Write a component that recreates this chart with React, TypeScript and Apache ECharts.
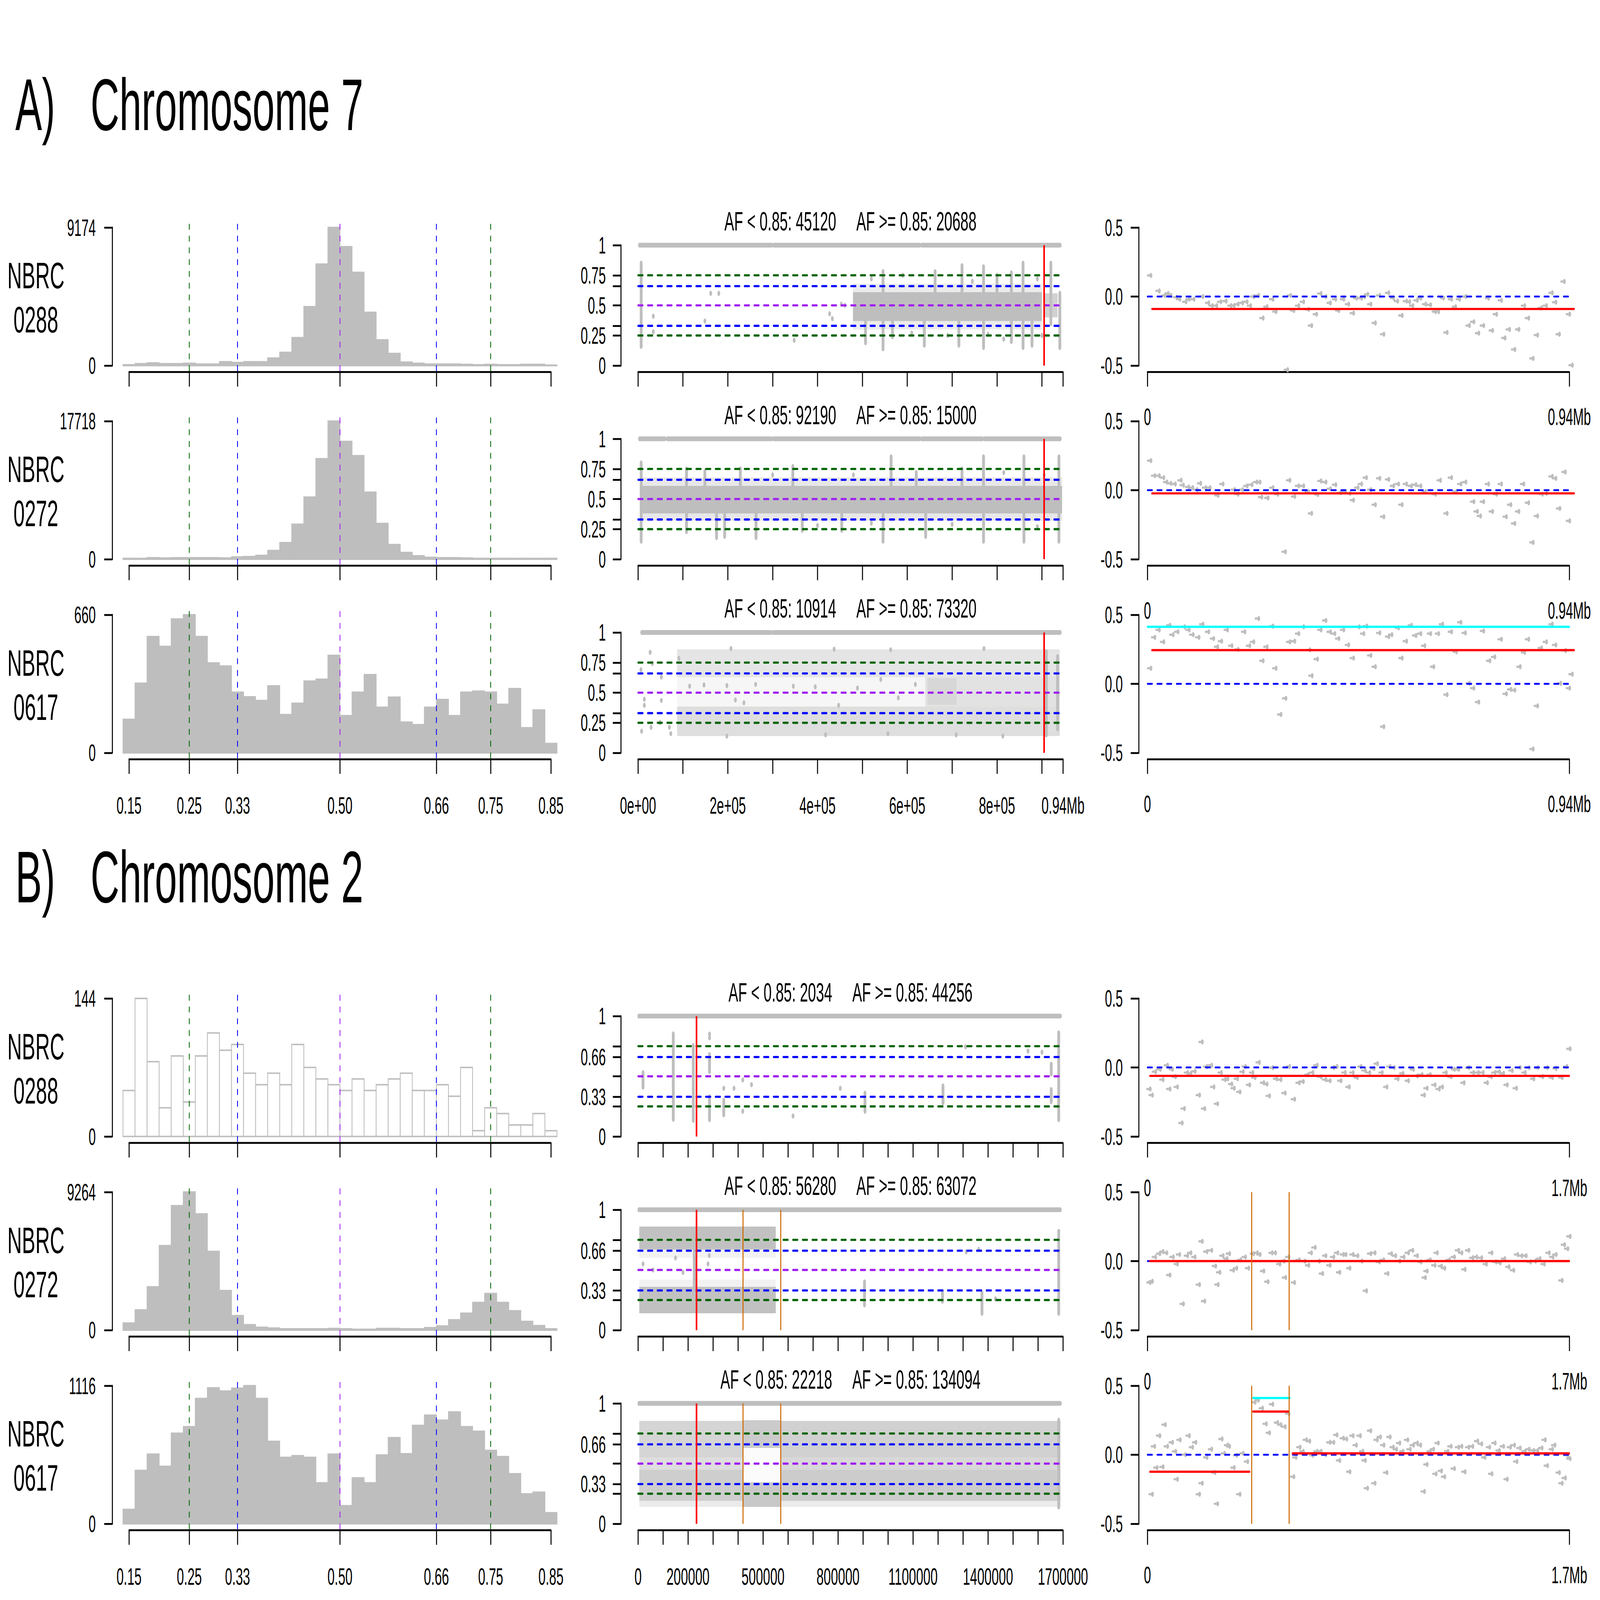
import React, { useEffect, useRef } from "react";
import * as echarts from "echarts";

// ======================= DATA =======================
const panelLetters = ["A)", "B)"];
const chromosomeNames = ["Chromosome 7", "Chromosome 2"];
const samples = ["0288", "0272", "0617"];
const chrLengthBp = [947000, 1700000];
const chrLengthKb = [947, 1700];
const cnEndLabels = ["0.94Mb", "1.7Mb"];

const histBreaks = [0.14, 0.16, 0.18, 0.2, 0.22, 0.24, 0.26, 0.28, 0.3, 0.32, 0.34, 0.36, 0.38, 0.4, 0.42, 0.44, 0.46, 0.48, 0.5, 0.52, 0.54, 0.56, 0.58, 0.6, 0.62, 0.64, 0.66, 0.68, 0.7, 0.72, 0.74, 0.76, 0.78, 0.8, 0.82, 0.84, 0.86];
const histA0288 = [50, 125, 175, 125, 125, 150, 100, 100, 250, 200, 250, 250, 500, 877, 1855, 3910, 6742, 9174, 7896, 6190, 3534, 1704, 802, 225, 150, 100, 100, 100, 75, 50, 75, 50, 50, 75, 75, 25];
const histA0272 = [97, 97, 193, 145, 193, 193, 193, 193, 145, 290, 338, 483, 1111, 2125, 4492, 7970, 12896, 17718, 15118, 13283, 8597, 4589, 1884, 869, 435, 242, 193, 193, 145, 97, 97, 97, 97, 97, 97, 97];
const histA0617 = [160, 333, 556, 509, 640, 660, 556, 430, 415, 290, 268, 250, 320, 183, 237, 343, 352, 466, 178, 290, 374, 218, 266, 147, 135, 218, 255, 178, 290, 295, 290, 232, 307, 120, 205, 45];
const histB0288 = [48, 144, 78, 30, 84, 36, 84, 108, 90, 96, 66, 54, 66, 54, 96, 72, 60, 54, 48, 60, 48, 54, 60, 66, 48, 48, 54, 42, 72, 6, 30, 24, 12, 12, 24, 6];
const histB0272 = [470, 1355, 2903, 5668, 8350, 9264, 7797, 5281, 2654, 968, 359, 194, 138, 83, 83, 83, 83, 110, 83, 55, 55, 110, 110, 83, 83, 166, 276, 691, 1134, 1853, 2461, 1853, 1300, 581, 304, 83];
const histB0617 = [116, 431, 563, 464, 732, 785, 1013, 1099, 1073, 1096, 1116, 1013, 666, 537, 550, 537, 331, 563, 146, 371, 331, 556, 696, 566, 795, 878, 838, 904, 785, 748, 593, 543, 404, 242, 255, 89];
const histMax = [9174, 17718, 660, 144, 9264, 1116];
const histTicks = [0.15, 0.25, 0.33, 0.5, 0.66, 0.75, 0.85];

const afGuides = [0.25, 0.33, 0.5, 0.66, 0.75];
const afGuideColors = ["#006400", "#0000FF", "#A020F0", "#0000FF", "#006400"];

const afLowCounts = [45120, 92190, 10914, 2034, 56280, 22218];
const afHighCounts = [20688, 15000, 73320, 44256, 63072, 134094];

const afTicks = [0, 0.25, 0.33, 0.5, 0.66, 0.75, 1];
const afLabelsTop = [0, 0.25, 0.5, 0.75, 1];
const afLabelsBottom = [0, 0.33, 0.66, 1];
const posTicks7 = [0, 100000, 200000, 300000, 400000, 500000, 600000, 700000, 800000, 900000, 947000];
const posLabelVals7 = [0, 200000, 400000, 600000, 800000, 947000];
const posLabelText7 = ["0e+00", "2e+05", "4e+05", "6e+05", "8e+05", "0.94Mb"];
const posTicks2 = [0, 100000, 200000, 300000, 400000, 500000, 600000, 700000, 800000, 900000, 1000000, 1100000, 1200000, 1300000, 1400000, 1500000, 1600000, 1700000];
const posLabelVals2 = [0, 200000, 500000, 800000, 1100000, 1400000, 1700000];
const posLabelText2 = ["0", "200000", "500000", "800000", "1100000", "1400000", "1700000"];

const centromereBp = [905000, 234000];
const breakpointsBp = [420000, 571000];

const homA0288 = [[3000, 298000, 1], [302000, 628000, 1], [632000, 941000, 1]];
const homA0272 = [[3000, 60000, 1], [65000, 298000, 1], [302000, 628000, 1], [632000, 768000, 1], [772000, 941000, 1]];
const homA0617 = [[8000, 298000, 1], [302000, 941000, 1]];
const homB0288 = [[3000, 1690000, 1]];
const homB0272 = [[3000, 1690000, 1]];
const homB0617 = [[3000, 1690000, 1]];

const cloudsA0288 = [[479000, 900000, 0.37, 0.61, 1], [479000, 900000, 0.3, 0.37, 0.3], [479000, 900000, 0.61, 0.68, 0.3], [905000, 935000, 0.4, 0.6, 0.7]];
const cloudsA0272 = [[5000, 945000, 0.38, 0.61, 1], [5000, 945000, 0.32, 0.38, 0.35], [5000, 945000, 0.61, 0.68, 0.35]];
const cloudsA0617 = [[87000, 940000, 0.63, 0.86, 0.4], [87000, 940000, 0.14, 0.385, 0.5], [87000, 640000, 0.385, 0.63, 0.14], [640000, 940000, 0.385, 0.63, 0.45], [645000, 710000, 0.4, 0.62, 0.3]];
const cloudsB0288: number[][] = [];
const cloudsB0272 = [[5000, 551000, 0.67, 0.86, 0.95], [5000, 551000, 0.14, 0.36, 0.95], [5000, 551000, 0.6, 0.67, 0.2], [5000, 551000, 0.36, 0.42, 0.2]];
const cloudsB0617 = [
  [5000, 420000, 0.55, 0.855, 0.65], [5000, 420000, 0.45, 0.55, 0.5], [5000, 420000, 0.19, 0.45, 0.75], [5000, 420000, 0.14, 0.19, 0.3],
  [420000, 571000, 0.63, 0.86, 0.8], [420000, 571000, 0.345, 0.63, 0.06], [420000, 571000, 0.14, 0.345, 0.85],
  [571000, 1690000, 0.55, 0.855, 0.7], [571000, 1690000, 0.45, 0.55, 0.6], [571000, 1690000, 0.19, 0.45, 0.78], [571000, 1690000, 0.14, 0.19, 0.3],
];

const streaksA0288 = [[7000, 0.16, 0.85], [507000, 0.19, 0.37], [546000, 0.14, 0.78], [567000, 0.24, 0.37], [638000, 0.17, 0.37], [662000, 0.61, 0.78], [715000, 0.17, 0.37], [722000, 0.61, 0.83], [770000, 0.15, 0.82], [800000, 0.61, 0.75], [832000, 0.2, 0.77], [858000, 0.15, 0.85], [878000, 0.17, 0.37], [920000, 0.35, 0.85], [940000, 0.15, 0.6]];
const streaksA0272 = [[7000, 0.15, 0.8], [108000, 0.23, 0.75], [149000, 0.61, 0.73], [175000, 0.18, 0.38], [193000, 0.19, 0.38], [228000, 0.61, 0.75], [263000, 0.18, 0.38], [345000, 0.61, 0.77], [366000, 0.24, 0.38], [454000, 0.24, 0.38], [546000, 0.15, 0.38], [564000, 0.61, 0.85], [620000, 0.61, 0.72], [641000, 0.19, 0.38], [722000, 0.61, 0.75], [770000, 0.15, 0.85], [860000, 0.15, 0.85], [938000, 0.15, 0.85]];
const streaksA0617 = [[910000, 0.15, 0.84], [935000, 0.2, 0.8]];
const streaksB0288 = [[20000, 0.41, 0.53], [141000, 0.144, 0.852], [221000, 0.134, 0.755], [286000, 0.54, 0.68], [286000, 0.14, 0.33], [343000, 0.18, 0.3], [908000, 0.21, 0.36], [1220000, 0.28, 0.42], [1653000, 0.52, 0.6], [1653000, 0.29, 0.39], [1683000, 0.14, 0.86]];
const streaksB0272 = [[225000, 0.3, 0.8], [906000, 0.21, 0.4], [1218000, 0.24, 0.32], [1376000, 0.14, 0.31], [1683000, 0.14, 0.82]];
const streaksB0617 = [[1683000, 0.14, 0.86]];

const dotsA0288 = [[34000, 0.41], [34000, 0.28], [149000, 0.37], [162000, 0.6], [180000, 0.6], [348000, 0.21], [427000, 0.43], [433000, 0.39], [453000, 0.51], [461000, 0.5], [520000, 0.72], [590000, 0.75], [610000, 0.27], [690000, 0.25], [745000, 0.7], [780000, 0.26], [815000, 0.22], [890000, 0.72], [900000, 0.25]];
const dotsA0272 = [[300000, 0.7], [400000, 0.28], [480000, 0.7], [520000, 0.3], [700000, 0.29], [815000, 0.72], [890000, 0.27], [905000, 0.7]];
const dotsA0617 = [[27000, 0.835], [6500, 0.69], [14000, 0.446], [14000, 0.395], [8000, 0.18], [32000, 0.743], [52000, 0.63], [52000, 0.436], [29000, 0.212], [49000, 0.253], [73000, 0.16], [70000, 0.212], [91000, 0.785], [115000, 0.554], [147000, 0.564], [198000, 0.559], [217000, 0.44], [236000, 0.416], [262000, 0.569], [346000, 0.554], [395000, 0.549], [447000, 0.395], [489000, 0.538], [541000, 0.61], [580000, 0.457], [618000, 0.569], [207000, 0.866], [437000, 0.861], [563000, 0.856], [771000, 0.866], [910000, 0.835], [198000, 0.14], [418000, 0.15], [557000, 0.16], [709000, 0.15], [813000, 0.14]];
const dotsB0288 = [[286000, 0.85], [286000, 0.82], [343000, 0.4], [384000, 0.4], [419000, 0.47], [419000, 0.21], [454000, 0.43], [620000, 0.17], [809000, 0.4], [1310000, 0.745], [1560000, 0.71], [1616000, 0.7]];
const dotsB0272 = [[20000, 0.55], [60000, 0.5], [150000, 0.6], [180000, 0.48], [280000, 0.55], [285000, 0.62], [1313000, 0.65], [1363000, 0.67], [1430000, 0.26]];
const dotsB0617: number[][] = [];

const cnA0288 = [[6, 0.153], [25, 0.041], [38, 0.008], [45, 0.022], [51, 0.008], [64, -0.005], [71, -0.019], [85, -0.038], [92, -0.019], [103, -0.019], [123, 0], [136, -0.046], [144, -0.066], [154, -0.066], [163, -0.038], [175, -0.033], [186, -0.066], [193, -0.066], [202, -0.055], [212, -0.046], [222, -0.038], [230, -0.066], [237, 0], [248, 0.008], [258, -0.156], [267, -0.074], [280, -0.019], [287, -0.109], [313, -0.53], [320, 0.008], [327, -0.101], [338, -0.066], [349, -0.038], [360, -0.093], [367, -0.21], [378, -0.128], [388, 0.022], [399, 0], [409, -0.046], [421, -0.019], [428, -0.101], [439, -0.019], [450, -0.055], [461, -0.12], [468, -0.011], [479, -0.011], [486, 0], [493, 0.016], [500, -0.055], [510, -0.191], [520, 0.008], [529, -0.273], [540, 0.027], [551, -0.011], [560, -0.033], [570, -0.137], [580, -0.033], [587, -0.038], [594, -0.066], [604, -0.027], [612, -0.011], [623, -0.055], [634, -0.06], [645, -0.109], [652, -0.109], [663, -0.011], [671, -0.26], [681, -0.019], [690, -0.074], [699, -0.019], [713, 0], [721, -0.21], [731, -0.183], [742, -0.265], [753, -0.21], [764, -0.011], [773, -0.246], [782, -0.128], [793, -0.027], [801, -0.3], [811, -0.238], [823, -0.383], [832, -0.238], [845, -0.066], [854, -0.156], [864, -0.448], [874, -0.279], [883, -0.082], [894, -0.066], [907, 0.027], [915, -0.041], [923, -0.273], [934, 0.109], [946, -0.128], [952, -0.497]];
const cnA0272 = [[6, 0.214], [15, 0.105], [25, 0.105], [35, 0.091], [42, 0.059], [51, 0.05], [61, 0.045], [74, 0.072], [79, 0.037], [91, 0.023], [100, 0.018], [110, 0.004], [118, 0.05], [129, 0.018], [139, 0.018], [157, -0.037], [168, 0.045], [194, 0.004], [202, -0.029], [212, 0.004], [222, 0.031], [233, 0.04], [244, 0.059], [251, 0.059], [255, -0.05], [269, -0.056], [280, 0.018], [291, -0.029], [308, -0.446], [318, 0.072], [329, -0.045], [338, 0.031], [349, 0.031], [360, -0.01], [367, -0.168], [381, -0.031], [388, 0.067], [399, 0.059], [409, 0.01], [421, 0.04], [432, -0.018], [443, -0.01], [453, -0.023], [461, -0.072], [471, 0.018], [479, 0.045], [490, 0.091], [500, 0.004], [510, -0.105], [520, 0.086], [529, -0.192], [540, 0.078], [551, 0.031], [562, 0.045], [570, -0.105], [580, 0.045], [591, 0.031], [601, 0.04], [612, 0.031], [623, -0.01], [645, -0.029], [656, 0.072], [671, -0.168], [681, 0.091], [692, -0.01], [702, 0.045], [713, 0.059], [731, -0.083], [739, -0.154], [746, -0.187], [753, -0.083], [764, 0.045], [773, -0.154], [782, -0.029], [793, 0.045], [804, -0.192], [814, -0.105], [823, -0.241], [832, -0.154], [843, 0.045], [854, -0.091], [864, -0.378], [874, -0.187], [885, -0.029], [894, -0.023], [907, 0.1], [915, 0.086], [924, -0.132], [936, 0.132], [946, -0.222]];
const cnA0617 = [[6, 0.113], [15, 0.337], [25, 0.391], [35, 0.304], [49, 0.424], [56, 0.356], [67, 0.377], [82, 0.413], [92, 0.391], [101, 0.356], [114, 0.337], [123, 0.432], [136, 0.377], [147, 0.328], [156, 0.268], [165, 0.309], [178, 0.391], [188, 0.276], [202, 0.249], [217, 0.377], [228, 0.276], [237, 0.304], [248, 0.473], [258, 0.167], [267, 0.268], [280, 0.418], [287, 0.113], [298, -0.222], [309, -0.105], [318, 0.304], [329, 0.309], [338, 0.364], [349, 0.413], [363, 0.246], [368, 0.059], [380, 0.179], [388, 0.391], [399, 0.459], [409, 0.377], [419, 0.364], [428, 0.328], [439, 0.391], [450, 0.282], [461, 0.187], [474, 0.413], [484, 0.364], [491, 0.418], [500, 0.206], [510, 0.124], [520, 0.369], [529, -0.31], [540, 0.342], [547, 0.356], [562, 0.405], [570, 0.187], [580, 0.309], [591, 0.424], [601, 0.35], [612, 0.364], [621, 0.276], [634, 0.364], [641, 0.124], [652, 0.364], [661, 0.432], [671, -0.078], [681, 0.377], [692, 0.232], [702, 0.446], [712, 0.369], [721, 0.004], [731, -0.031], [742, -0.132], [753, 0.383], [767, 0.167], [778, 0.195], [793, 0.323], [804, -0.072], [814, -0.04], [823, -0.045], [835, 0.124], [845, 0.228], [854, 0.323], [864, -0.472], [874, -0.16], [883, 0.26], [894, 0.304], [907, 0.432], [915, 0.282], [926, 0.004], [937, 0.241], [946, -0.031], [952, 0.07]];
const cnB0288 = [[8, -0.156], [17, -0.2], [30, -0.031], [49, -0.013], [60, -0.088], [78, 0.016], [88, -0.156], [98, -0.013], [110, -0.067], [118, -0.141], [137, -0.402], [146, -0.298], [159, -0.037], [172, -0.043], [189, -0.028], [207, -0.2], [218, 0.185], [228, -0.298], [237, 0.007], [256, 0.016], [265, -0.141], [280, -0.263], [295, -0.037], [311, -0.088], [321, -0.082], [337, -0.12], [347, -0.15], [360, -0.082], [370, -0.177], [383, -0.031], [392, 0.007], [409, -0.126], [422, -0.037], [431, -0.073], [448, 0.037], [466, -0.111], [479, -0.12], [489, -0.206], [502, -0.001], [518, -0.082], [535, -0.088], [552, -0.185], [570, 0.007], [590, -0.23], [609, -0.111], [625, -0.102], [645, -0.052], [664, -0.037], [681, 0.016], [697, -0.067], [716, -0.088], [733, -0.096], [748, -0.001], [761, 0.007], [777, -0.096], [794, -0.037], [810, -0.141], [826, -0.037], [843, -0.073], [858, 0.007], [875, -0.022], [893, -0.037], [910, -0.007], [924, 0.028], [943, -0.037], [962, -0.141], [975, 0.007], [992, -0.001], [1007, -0.082], [1027, -0.043], [1049, -0.096], [1069, -0.013], [1085, -0.061], [1104, -0.052], [1113, -0.2], [1124, -0.15], [1137, -0.052], [1156, -0.126], [1173, -0.156], [1186, -0.141], [1201, -0.037], [1221, -0.067], [1234, -0.013], [1251, -0.013], [1273, -0.111], [1292, -0.001], [1311, -0.037], [1331, -0.037], [1350, -0.037], [1367, -0.111], [1383, -0.067], [1398, -0.037], [1415, -0.031], [1432, -0.043], [1447, -0.126], [1467, -0.022], [1484, -0.15], [1499, -0.001], [1519, -0.037], [1535, -0.001], [1554, -0.082], [1570, -0.001], [1590, -0.067], [1609, -0.001], [1629, -0.073], [1644, -0.007], [1668, -0.073], [1687, 0.007], [1700, 0.135]];
const cnB0272 = [[8, -0.155], [17, -0.146], [30, 0.03], [47, 0.054], [60, 0.069], [75, 0.06], [88, -0.101], [101, 0.03], [118, -0.021], [127, 0.048], [142, -0.31], [159, 0.039], [172, 0.06], [189, 0.03], [207, -0.17], [218, 0.143], [228, -0.29], [237, 0.069], [256, 0.078], [272, -0.036], [282, -0.17], [289, -0.081], [302, 0.039], [318, 0.018], [328, 0.054], [344, -0.066], [357, -0.051], [373, 0.009], [392, 0.03], [405, -0.051], [425, 0.054], [440, 0.06], [451, 0.048], [466, -0.072], [483, -0.149], [500, 0.06], [513, 0.06], [531, -0.021], [548, 0], [554, -0.119], [567, 0.03], [590, -0.155], [609, 0.009], [632, 0], [647, -0.03], [658, 0.06], [673, 0.099], [690, 0], [703, -0.09], [716, 0.039], [733, -0.03], [748, 0.03], [764, 0.06], [772, -0.081], [787, 0.048], [797, 0.048], [813, -0.051], [826, 0.048], [845, 0.039], [862, 0], [880, -0.215], [897, 0.054], [914, 0.06], [932, -0.006], [949, 0.009], [966, -0.09], [981, 0.054], [997, 0.039], [1014, 0], [1031, 0.03], [1049, 0.06], [1066, 0.078], [1085, 0.039], [1100, -0.006], [1117, -0.119], [1124, -0.072], [1137, 0.009], [1156, -0.03], [1165, 0.06], [1182, -0.036], [1195, -0.051], [1214, 0.009], [1234, 0.03], [1251, 0.078], [1264, 0.06], [1277, -0.06], [1292, 0.078], [1308, 0.024], [1324, 0.03], [1344, 0.024], [1363, -0.021], [1385, 0.06], [1402, -0.006], [1419, -0.012], [1437, 0.018], [1454, -0.042], [1473, -0.066], [1489, 0.048], [1506, 0.039], [1523, 0.039], [1541, -0.006], [1561, 0], [1579, 0.018], [1596, -0.021], [1616, 0.06], [1631, 0.03], [1644, 0.048], [1668, -0.14], [1678, 0.119], [1691, 0.09], [1700, 0.179]];
const cnB0617 = [[17, -0.286], [26, 0.061], [36, -0.093], [47, 0.138], [60, -0.088], [69, 0.218], [78, 0.061], [98, 0.09], [111, 0.025], [118, -0.177], [129, 0.108], [150, 0.001], [166, 0.138], [179, 0.055], [192, 0.09], [207, -0.286], [218, -0.206], [237, -0.019], [256, 0.04], [269, -0.129], [280, -0.355], [298, 0.114], [308, 0.01], [321, 0.07], [328, 0.061], [347, -0.093], [357, -0.004], [370, -0.286], [383, 0.01], [401, -0.049], [431, 0.381], [444, 0.396], [461, 0.337], [476, 0.224], [489, 0.159], [502, 0.366], [522, 0.233], [535, 0.218], [552, 0.203], [567, 0.298], [587, -0.159], [596, -0.019], [612, 0.055], [625, 0.025], [638, 0.108], [651, 0.099], [664, -0.004], [681, 0.025], [697, 0.025], [716, 0.001], [733, 0.09], [748, 0.09], [761, 0.144], [772, -0.041], [787, 0.12], [800, 0.114], [813, -0.123], [826, 0.138], [839, 0.07], [855, 0.138], [865, 0.025], [875, -0.041], [884, -0.242], [897, 0.174], [914, -0.206], [923, 0.108], [936, 0.129], [950, 0.07], [962, -0.129], [975, 0.129], [988, 0.055], [1001, 0.04], [1014, 0.085], [1027, 0.025], [1046, 0.108], [1056, 0.04], [1069, 0.07], [1085, 0.085], [1098, 0.07], [1113, -0.266], [1124, -0.07], [1137, 0.025], [1150, 0.04], [1160, -0.138], [1169, 0.085], [1182, -0.117], [1195, -0.159], [1208, 0.025], [1221, 0.061], [1234, -0.1], [1251, 0.055], [1264, 0.061], [1277, -0.123], [1292, 0.055], [1308, 0.061], [1328, 0.099], [1344, 0.079], [1357, -0.019], [1376, 0.055], [1385, -0.138], [1398, 0.085], [1415, 0.031], [1432, 0.061], [1447, -0.177], [1460, 0.055], [1476, 0.07], [1486, -0.049], [1499, 0.049], [1519, 0.025], [1535, 0.04], [1554, 0.031], [1570, 0.031], [1587, 0.049], [1600, 0.108], [1609, -0.079], [1629, 0.04], [1639, 0.07], [1657, -0.129], [1668, -0.206], [1681, -0.168], [1691, -0.004], [1700, -0.028]];

const segA0288 = [[10, 958, -0.09]];
const segA0272 = [[10, 958, -0.023]];
const segA0617 = [[10, 958, 0.244]];
const segB0288 = [[10, 1700, -0.061]];
const segB0272 = [[10, 1700, 0]];
const segB0617 = [[10, 412, -0.123], [425, 570, 0.313], [584, 1700, 0.01]];
const gainA0617 = [[0, 947, 0.413]];
const gainB0617 = [[425, 574, 0.411]];

// ======================= LAYOUT / STYLE =======================
const PAGE_W = 7937;
const PAGE_H = 4346;
const FONT = '"Liberation Sans", Arial, Helvetica, sans-serif';
const GRAY = "#BEBEBE";
const RED = "#FF0000";
const ORANGE = "#CD6600";
const CYAN = "#00FFFF";
const BLUE = "#0000FF";
const ROW_TOP = [618, 1144, 1670, 2712, 3238, 3764];
const PANEL_H = 375;
const MID_PAD = 48;
const HIST = { left: 640, width: 2093, yOff: 83, margin: 82 };
const MID = { left: 3165, width: 2108, yOff: 85, margin: 75 };
const CN = { left: 5692, width: 2093, yOff: 43, margin: 79 };

function buildOption() {
  const grids: any[] = [];
  const xAxes: any[] = [];
  const yAxes: any[] = [];
  const series: any[] = [];
  const elements: any[] = [];

  const lineStyle = { color: "#000", width: 5 };
  const labelStyle = { color: "#000", fontSize: 64, fontFamily: FONT, lineHeight: 64 };

  function axis(opts: any) {
    return {
      type: "value",
      min: opts.min,
      max: opts.max,
      axisLine: { show: true, onZero: false, lineStyle },
      axisTick: { show: true, length: 40, lineStyle, customValues: opts.ticks },
      axisLabel: { show: opts.showLabels, margin: opts.margin, customValues: opts.labels, formatter: opts.formatter, ...labelStyle },
      splitLine: { show: false },
      splitArea: { show: false },
    };
  }

  function panel(left: number, top: number, width: number, height: number, x: any, y: any) {
    const i = grids.length;
    grids.push({ left, top, width, height, containLabel: false, outerBoundsMode: "none" });
    xAxes.push({ ...axis(x), gridIndex: i, position: "bottom", offset: 17 });
    yAxes.push({ ...axis(y), gridIndex: i, position: "left", offset: y.offset });
    return i;
  }

  const cs = (i: number, data: any[], renderItem: any) => ({
    type: "custom", xAxisIndex: i, yAxisIndex: i, data, renderItem, clip: false, silent: true, animation: false,
  });

  const line = (a: number[], b: number[], stroke: string, lineWidth: number, dash?: number[], cap = "round") => ({
    type: "line",
    shape: { x1: a[0], y1: a[1], x2: b[0], y2: b[1] },
    style: { stroke, lineWidth, lineDash: dash || null, lineCap: cap },
  });

  const rH = (color: string | string[], width: number, dash?: number[]) => (p: any, api: any) => {
    const a = api.coord([api.value(0), api.value(2)]);
    const b = api.coord([api.value(1), api.value(2)]);
    const c = Array.isArray(color) ? color[p.dataIndex] : color;
    return line(a, b, c, width, dash);
  };
  const rV = (color: string | string[], width: number, dash?: number[], cap = "butt") => (p: any, api: any) => {
    const a = api.coord([api.value(0), api.value(1)]);
    const b = api.coord([api.value(0), api.value(2)]);
    const c = Array.isArray(color) ? color[p.dataIndex] : color;
    return line(a, b, c, width, dash, cap);
  };

  const histSets = [histA0288, histA0272, histA0617, histB0288, histB0272, histB0617];
  const homSets = [homA0288, homA0272, homA0617, homB0288, homB0272, homB0617];
  const cloudSets = [cloudsA0288, cloudsA0272, cloudsA0617, cloudsB0288, cloudsB0272, cloudsB0617];
  const streakSets = [streaksA0288, streaksA0272, streaksA0617, streaksB0288, streaksB0272, streaksB0617];
  const dotSets = [dotsA0288, dotsA0272, dotsA0617, dotsB0288, dotsB0272, dotsB0617];
  const cnSets = [cnA0288, cnA0272, cnA0617, cnB0288, cnB0272, cnB0617];
  const segSets = [segA0288, segA0272, segA0617, segB0288, segB0272, segB0617];
  const gainSets = [[], [], gainA0617, [], [], gainB0617];
  const hasBreaks = [false, false, false, false, true, true];

  const textEl = (x: number, y: number, text: string, size: number, align: string) => ({
    type: "text", x, y, silent: true,
    style: { text, fill: "#000", fontSize: size, fontFamily: FONT, font: `${size}px ${FONT}`, textAlign: align, textVerticalAlign: "middle", align, verticalAlign: "middle" },
  });

  for (let r = 0; r < 6; r++) {
    const c = r < 3 ? 0 : 1;
    const top = ROW_TOP[r];
    const lastRow = r === 2 || r === 5;

    const hmax = histMax[r];
    const hi = panel(HIST.left, top, HIST.width, PANEL_H,
      { min: 0.15, max: 0.85, ticks: histTicks, labels: histTicks, showLabels: lastRow, margin: 94, formatter: (v: number) => v.toFixed(2) },
      { min: 0, max: hmax, ticks: [0, hmax], labels: [0, hmax], showLabels: true, margin: HIST.margin, offset: HIST.yOff, formatter: (v: number) => String(v) });
    const bins = histSets[r].map((n, k) => [histBreaks[k], histBreaks[k + 1], n]);
    const fill = r === 3 ? "#FFFFFF" : GRAY;
    series.push(cs(hi, bins, (p: any, api: any) => {
      const a = api.coord([api.value(0), 0]);
      const b = api.coord([api.value(1), api.value(2)]);
      return { type: "rect", shape: { x: a[0], y: b[1], width: b[0] - a[0], height: Math.max(a[1] - b[1], 0.5) }, style: { fill, stroke: GRAY, lineWidth: 4 } };
    }));
    series.push(cs(hi, afGuides.map((g) => [g, -0.04 * hmax, 1.04 * hmax]), rV(afGuideColors, 4, [16, 16])));

    const len = chrLengthBp[c];
    const ticks = c === 0 ? posTicks7 : posTicks2;
    const lvals = c === 0 ? posLabelVals7 : posLabelVals2;
    const ltext = c === 0 ? posLabelText7 : posLabelText2;
    const mi = panel(MID.left, top + MID_PAD, MID.width, PANEL_H - MID_PAD,
      { min: 0, max: len, ticks, labels: lvals, showLabels: lastRow, margin: 94, formatter: (v: number) => { const k = lvals.indexOf(v); return k >= 0 ? ltext[k] : ""; } },
      { min: 0, max: 1, ticks: afTicks, labels: c === 0 ? afLabelsTop : afLabelsBottom, showLabels: true, margin: MID.margin, offset: MID.yOff, formatter: (v: number) => String(v) });
    series.push(cs(mi, cloudSets[r], (p: any, api: any) => {
      const a = api.coord([api.value(0), api.value(2)]);
      const b = api.coord([api.value(1), api.value(3)]);
      return { type: "rect", shape: { x: a[0], y: b[1], width: b[0] - a[0], height: a[1] - b[1] }, style: { fill: GRAY, opacity: api.value(4) } };
    }));
    series.push(cs(mi, streakSets[r], rV(GRAY, 14, undefined, "round")));
    series.push(cs(mi, dotSets[r], (p: any, api: any) => {
      const a = api.coord([api.value(0), api.value(1)]);
      return { type: "circle", shape: { cx: a[0], cy: a[1], r: 7 }, style: { fill: GRAY } };
    }));
    series.push(cs(mi, homSets[r], rH(GRAY, 13)));
    series.push(cs(mi, afGuides.map((g) => [0, len, g]), rH(afGuideColors, 6, [24, 24])));
    if (hasBreaks[r]) series.push(cs(mi, breakpointsBp.map((b) => [b, 0, 1]), rV(ORANGE, 5)));
    series.push(cs(mi, [[centromereBp[c], 0, 1]], rV(RED, 8)));

    elements.push(textEl(MID.left + MID.width / 2, top + MID_PAD - 65,
      `AF < 0.85: ${afLowCounts[r]}\u00A0\u00A0\u00A0\u00A0\u00A0AF >= 0.85: ${afHighCounts[r]}`, 72, "center"));

    const lenKb = chrLengthKb[c];
    const ci = panel(CN.left, top, CN.width, PANEL_H,
      { min: 0, max: lenKb, ticks: [0, lenKb], labels: [0, lenKb], showLabels: true, margin: 90, formatter: (v: number) => (v === 0 ? "0" : cnEndLabels[c]) },
      { min: -0.5, max: 0.5, ticks: [-0.5, 0, 0.5], labels: [-0.5, 0, 0.5], showLabels: true, margin: CN.margin, offset: CN.yOff, formatter: (v: number) => v.toFixed(1) });
    series.push(cs(ci, cnSets[r], (p: any, api: any) => {
      const a = api.coord([api.value(0), api.value(1)]);
      return {
        type: "group",
        children: [
          { type: "line", shape: { x1: a[0] - 13, y1: a[1], x2: a[0] + 3, y2: a[1] }, style: { stroke: GRAY, lineWidth: 6, lineCap: "round" } },
          { type: "circle", shape: { cx: a[0] + 4, cy: a[1], r: 7 }, style: { fill: GRAY } },
        ],
      };
    }));
    series.push(cs(ci, [[0, lenKb, 0]], rH(BLUE, 5, [24, 24])));
    series.push(cs(ci, segSets[r], rH(RED, 6)));
    if (gainSets[r].length) series.push(cs(ci, gainSets[r], rH(CYAN, 6)));
    if (hasBreaks[r]) series.push(cs(ci, breakpointsBp.map((b) => [b / 1000, -0.5, 0.5]), rV(ORANGE, 5)));

    const mid = top + PANEL_H / 2;
    elements.push(textEl(178, mid - 57, "NBRC", 100, "center"));
    elements.push(textEl(178, mid + 63, samples[r % 3], 100, "center"));
  }

  const headingY = [285, 2383];
  for (let h = 0; h < 2; h++) {
    elements.push(textEl(76, headingY[h], panelLetters[h], 198, "left"));
    elements.push(textEl(449, headingY[h], chromosomeNames[h], 198, "left"));
  }

  return { animation: false, backgroundColor: "#FFFFFF", grid: grids, xAxis: xAxes, yAxis: yAxes, series, graphic: { elements } };
}

export default function App() {
  const ref = useRef<HTMLDivElement>(null);
  const vw = typeof window !== "undefined" ? window.innerWidth : PAGE_W;
  const vh = typeof window !== "undefined" ? window.innerHeight : PAGE_H;
  // The 7937x4346 design is mapped onto the whole window, so the figure fills the frame that is photographed.
  const sx = vw / PAGE_W;
  const sy = vh / PAGE_H;

  useEffect(() => {
    document.body.style.margin = "0";
    document.body.style.overflow = "hidden";
    document.documentElement.style.overflow = "hidden";
    if (!ref.current) return;
    const chart = echarts.init(ref.current, null, { renderer: "svg", width: PAGE_W, height: PAGE_H });
    chart.setOption(buildOption() as any);
    return () => chart.dispose();
  }, []);

  return (
    <div style={{ position: "fixed", left: 0, top: 0, width: `${vw}px`, height: `${vh}px`, overflow: "hidden", background: "#FFFFFF" }}>
      <div
        ref={ref}
        style={{ position: "absolute", left: 0, top: 0, width: `${PAGE_W}px`, height: `${PAGE_H}px`, transform: `scale(${sx}, ${sy})`, transformOrigin: "0 0", background: "#FFFFFF" }}
      />
    </div>
  );
}
